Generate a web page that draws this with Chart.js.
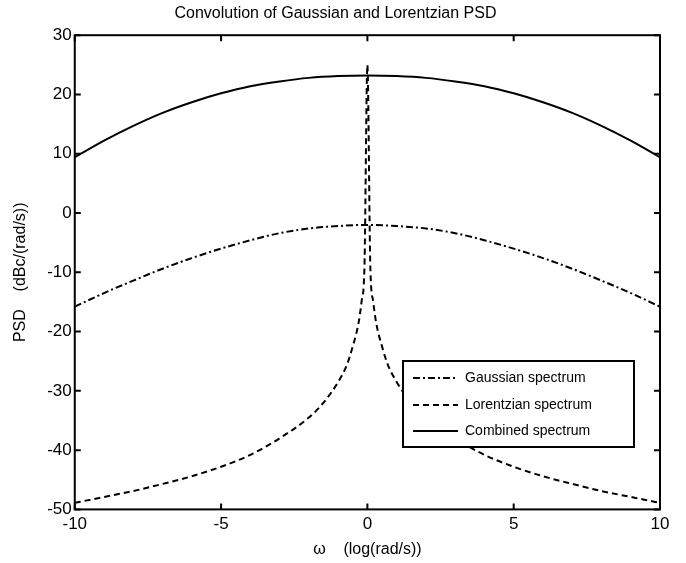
<!DOCTYPE html>
<html>
<head>
<meta charset="utf-8">
<script src="https://cdn.jsdelivr.net/npm/chart.js@4"></script>
<style>
html,body{margin:0;padding:0;background:#fff;}
#wrap{width:686px;height:563px;}
</style>
</head>
<body>
<div id="wrap"><canvas id="c" width="686" height="563"></canvas></div>
<script>
// ---- data ----
const xTicks = [-10, -5, 0, 5, 10];
const yTicks = [-50, -40, -30, -20, -10, 0, 10, 20, 30];

const gaussX = [-10,-9,-8,-7,-6,-5,-4,-3,-2,-1,0,1,2,3,4,5,6,7,8,9,10];
const gaussY = [-15.8,-13.5,-11.4,-9.4,-7.6,-6.0,-4.6,-3.4,-2.6,-2.2,-2.0,-2.2,-2.6,-3.4,-4.6,-6.0,-7.6,-9.4,-11.4,-13.5,-15.8];

const lorX = [-10,-9,-8,-7,-6,-5,-4,-3,-2,-1.5,-1,-0.7,-0.5,-0.3,-0.2,-0.1,0,0.1,0.2,0.3,0.5,0.7,1,1.5,2,3,4,5,6,7,8,9,10];
const lorY = [-48.9,-47.9,-46.9,-45.7,-44.4,-42.8,-40.8,-38.0,-34.5,-32.0,-28.5,-25.6,-22.5,-18.5,-15.0,-9.0,25.0,-9.0,-15.0,-18.5,-22.5,-25.6,-28.5,-32.0,-34.5,-38.0,-40.8,-42.8,-44.4,-45.7,-46.9,-47.9,-48.9];

const combX = [-10,-9,-8,-7,-6,-5,-4,-3,-2,-1,0,1,2,3,4,5,6,7,8,9,10];
const combY = [9.4,12.2,14.7,16.9,18.7,20.2,21.4,22.2,22.8,23.1,23.2,23.1,22.8,22.2,21.4,20.2,18.7,16.9,14.7,12.2,9.4];

const seriesNames = ['Gaussian spectrum', 'Lorentzian spectrum', 'Combined spectrum'];

const pts = (xs, ys) => xs.map((x, i) => ({x: x, y: ys[i]}));

const FONT = '"Liberation Sans", Arial, Helvetica, sans-serif';
const dashes = [[7,3,2,3],[6,4],[]];

const boxPlugin = {
  id: 'boxTicks',
  afterDatasetsDraw(chart) {
    const ctx = chart.ctx, a = chart.chartArea;
    const xs = chart.scales.x, ys = chart.scales.y;
    ctx.save();
    ctx.strokeStyle = '#000';
    ctx.lineWidth = 2;
    ctx.setLineDash([]);
    ctx.strokeRect(a.left, a.top, a.right - a.left, a.bottom - a.top);
    const L = 6;
    ctx.beginPath();
    xTicks.forEach(v => {
      const px = xs.getPixelForValue(v);
      ctx.moveTo(px, a.bottom); ctx.lineTo(px, a.bottom - L);
      ctx.moveTo(px, a.top); ctx.lineTo(px, a.top + L);
    });
    yTicks.forEach(v => {
      const py = ys.getPixelForValue(v);
      ctx.moveTo(a.left, py); ctx.lineTo(a.left + L, py);
      ctx.moveTo(a.right, py); ctx.lineTo(a.right - L, py);
    });
    ctx.stroke();

    // legend box
    const bx = 403, by = 361, bw = 231, bh = 86;
    ctx.fillStyle = '#fff';
    ctx.fillRect(bx, by, bw, bh);
    ctx.lineWidth = 2;
    ctx.strokeRect(bx, by, bw, bh);
    ctx.font = '14px ' + FONT;
    ctx.textBaseline = 'middle';
    ctx.fillStyle = '#000';
    const rows = [378, 405, 431];
    seriesNames.forEach((n, i) => {
      ctx.beginPath();
      ctx.setLineDash(dashes[i]);
      ctx.moveTo(413, rows[i]); ctx.lineTo(458, rows[i]);
      ctx.stroke();
      ctx.setLineDash([]);
      ctx.fillText(n, 465, rows[i]);
    });
    ctx.restore();
  }
};

new Chart(document.getElementById('c'), {
  type: 'line',
  data: {
    datasets: [
      {label: seriesNames[0], data: pts(gaussX, gaussY), borderColor: '#000', borderWidth: 2, borderDash: dashes[0], pointRadius: 0, cubicInterpolationMode: 'monotone', fill: false},
      {label: seriesNames[1], data: pts(lorX, lorY), borderColor: '#000', borderWidth: 2, borderDash: dashes[1], pointRadius: 0, cubicInterpolationMode: 'monotone', fill: false},
      {label: seriesNames[2], data: pts(combX, combY), borderColor: '#000', borderWidth: 2, borderDash: dashes[2], pointRadius: 0, cubicInterpolationMode: 'monotone', fill: false}
    ]
  },
  options: {
    responsive: false,
    animation: false,
    devicePixelRatio: 1,
    layout: {padding: {left: 11, right: 26, top: 2, bottom: 4}},
    plugins: {
      legend: {display: false},
      tooltip: {enabled: false},
      title: {display: true, text: 'Convolution of Gaussian and Lorentzian PSD', color: '#000', font: {family: FONT, size: 16, weight: 'normal'}, padding: {top: 2, bottom: 12}}
    },
    scales: {
      x: {
        type: 'linear', min: -10, max: 10,
        afterBuildTicks: s => { s.ticks = xTicks.map(v => ({value: v})); },
        grid: {display: false, drawTicks: false},
        border: {display: false},
        ticks: {color: '#000', font: {family: FONT, size: 17}, padding: 5, maxRotation: 0},
        title: {display: true, text: 'ω    (log(rad/s))', color: '#000', font: {family: FONT, size: 16}, padding: {top: 0, bottom: 0}}
      },
      y: {
        type: 'linear', min: -50, max: 30,
        afterBuildTicks: s => { s.ticks = yTicks.map(v => ({value: v})); },
        grid: {display: false, drawTicks: false},
        border: {display: false},
        ticks: {color: '#000', font: {family: FONT, size: 17}, padding: 3},
        title: {display: true, text: 'PSD    (dBc/(rad/s))', color: '#000', font: {family: FONT, size: 16}, padding: {top: 0, bottom: 14}}
      }
    }
  },
  plugins: [boxPlugin]
});
</script>
</body>
</html>
